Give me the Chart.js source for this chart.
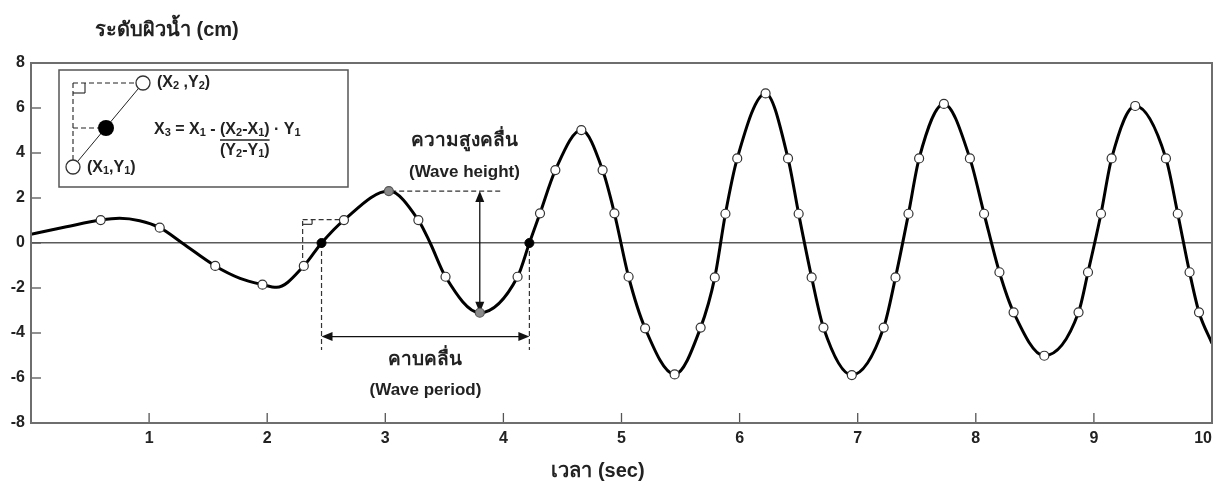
<!DOCTYPE html>
<html>
<head>
<meta charset="utf-8">
<script src="https://cdn.jsdelivr.net/npm/chart.js@4.4.1/dist/chart.umd.min.js"></script>
<style>
  body { margin: 0; background: #fff; }
  #wrap { width: 1218px; height: 496px; }
</style>
</head>
<body>
<div id="wrap"><canvas id="wave"></canvas></div>
<script>
const xTicks = [0, 1, 2, 3, 4, 5, 6, 7, 8, 9, 10];
const yTicks = [-8, -6, -4, -2, 0, 2, 4, 6, 8];

// white sample points on the record
const markerTime = [0.59, 1.09, 1.56, 1.96, 2.31, 2.65, 3.28, 3.51, 4.12, 4.31, 4.44, 4.66, 4.84, 4.94, 5.06, 5.20, 5.45,
  5.67, 5.79, 5.88, 5.98, 6.22, 6.41, 6.50, 6.61, 6.71, 6.95, 7.22, 7.32, 7.43, 7.52, 7.73, 7.95, 8.07, 8.20, 8.32,
  8.58, 8.87, 8.95, 9.06, 9.15, 9.35, 9.61, 9.71, 9.81, 9.89];
const markerLevel = [1.02, 0.68, -1.02, -1.85, -1.02, 1.02, 1.02, -1.50, -1.50, 1.32, 3.24, 5.02, 3.24, 1.32, -1.50, -3.79, -5.84,
  -3.76, -1.53, 1.30, 3.76, 6.65, 3.76, 1.30, -1.53, -3.76, -5.87, -3.76, -1.53, 1.30, 3.76, 6.18, 3.76, 1.30, -1.30, -3.08,
  -5.01, -3.08, -1.30, 1.30, 3.76, 6.09, 3.76, 1.30, -1.30, -3.08];

// zero up-crossings (black) and crest / trough (grey)
const crossTime = [2.46, 4.22];
const crossLevel = [0, 0];
const crestTime = [3.03, 3.80];
const crestLevel = [2.31, -3.10];

// other points
const curveTime = [0, 0.30, 0.75, 0.92, 1.28, 1.77, 2.08, 3.38, 10];
const curveLevel = [0.39, 0.72, 1.10, 0.99, 0, -1.57, -1.97, 0, -4.46];

const FONT = "'Liberation Sans', Arial, sans-serif";

const pts = (xs, ys) => xs.map((v, i) => ({ x: v, y: ys[i] }));
const curve = [
  ...pts(markerTime, markerLevel),
  ...pts(crossTime, crossLevel),
  ...pts(crestTime, crestLevel),
  ...pts(curveTime, curveLevel),
].sort((a, b) => a.x - b.x);

// text with "_n" subscripts
function rich(ctx, str, x, y, size, align) {
  const parts = [];
  for (let i = 0; i < str.length; i++) {
    if (str[i] === '_') { parts.push([str[i + 1], true]); i++; }
    else parts.push([str[i], false]);
  }
  const big = 'bold ' + size + 'px ' + FONT;
  const small = 'bold ' + Math.round(size * 0.66) + 'px ' + FONT;
  let w = 0;
  parts.forEach(p => { ctx.font = p[1] ? small : big; w += ctx.measureText(p[0]).width; });
  let cx = align === 'center' ? x - w / 2 : x;
  ctx.textAlign = 'left';
  ctx.textBaseline = 'middle';
  parts.forEach(p => {
    ctx.font = p[1] ? small : big;
    ctx.fillText(p[0], cx, p[1] ? y + size * 0.2 : y);
    cx += ctx.measureText(p[0]).width;
  });
  return w;
}

function arrowHead(ctx, x, y, dir) {
  ctx.beginPath();
  if (dir === 'up') { ctx.moveTo(x, y); ctx.lineTo(x - 4.5, y + 11); ctx.lineTo(x + 4.5, y + 11); }
  if (dir === 'down') { ctx.moveTo(x, y); ctx.lineTo(x - 4.5, y - 11); ctx.lineTo(x + 4.5, y - 11); }
  if (dir === 'left') { ctx.moveTo(x, y); ctx.lineTo(x + 11, y - 4.5); ctx.lineTo(x + 11, y + 4.5); }
  if (dir === 'right') { ctx.moveTo(x, y); ctx.lineTo(x - 11, y - 4.5); ctx.lineTo(x - 11, y + 4.5); }
  ctx.closePath();
  ctx.fill();
}

function seg(ctx, x1, y1, x2, y2) {
  ctx.beginPath(); ctx.moveTo(x1, y1); ctx.lineTo(x2, y2); ctx.stroke();
}

const annotate = {
  id: 'annotate',
  beforeDatasetsDraw(chart) {
    const { ctx, chartArea: a, scales: { x, y } } = chart;
    const px = v => x.getPixelForValue(v), py = v => y.getPixelForValue(v);
    ctx.save();
    // inward ticks
    ctx.strokeStyle = '#555'; ctx.lineWidth = 1.3;
    yTicks.forEach(t => { if (t > -8 && t < 8) seg(ctx, a.left, py(t), a.left + 10, py(t)); });
    xTicks.forEach(t => { if (t > 0 && t < 10) seg(ctx, px(t), a.bottom, px(t), a.bottom - 10); });

    // construction lines
    ctx.strokeStyle = '#333'; ctx.lineWidth = 1.2; ctx.setLineDash([5, 3]);
    seg(ctx, px(2.30), py(-1.02), px(2.30), py(1.04));
    seg(ctx, px(2.30), py(1.04), px(2.64), py(1.04));
    seg(ctx, px(2.46), py(0), px(2.46), py(-4.75));
    seg(ctx, px(4.22), py(0), px(4.22), py(-4.75));
    seg(ctx, px(3.05), py(2.31), px(3.99), py(2.31));
    ctx.setLineDash([]);
    seg(ctx, px(2.30), py(0.83), px(2.38), py(0.83));
    seg(ctx, px(2.38), py(0.83), px(2.38), py(1.04));

    // wave height arrow
    ctx.strokeStyle = '#111'; ctx.fillStyle = '#111'; ctx.lineWidth = 1.3;
    seg(ctx, px(3.80), py(2.31) + 4, px(3.80), py(-3.10) - 4);
    arrowHead(ctx, px(3.80), py(2.31), 'up');
    arrowHead(ctx, px(3.80), py(-3.10), 'down');
    // wave period arrow
    seg(ctx, px(2.46) + 4, py(-4.16), px(4.22) - 4, py(-4.16));
    arrowHead(ctx, px(2.46), py(-4.16), 'left');
    arrowHead(ctx, px(4.22), py(-4.16), 'right');

    // labels
    ctx.fillStyle = '#222';
    ctx.textAlign = 'center'; ctx.textBaseline = 'middle';
    ctx.font = 'bold 19px ' + FONT;
    ctx.fillText('ความสูงคลื่น', px(3.67), py(4.55));
    ctx.fillText('คาบคลื่น', px(3.34), py(-5.2));
    ctx.font = 'bold 17px ' + FONT;
    ctx.fillText('(Wave height)', px(3.67), py(3.16));
    ctx.fillText('(Wave period)', px(3.34), py(-6.53));
    ctx.restore();
  },
  afterDraw(chart) {
    const { ctx, chartArea: a } = chart;
    ctx.save();
    // frame
    ctx.strokeStyle = '#6e6e6e'; ctx.lineWidth = 2;
    ctx.strokeRect(a.left, a.top, a.right - a.left, a.bottom - a.top);

    // axis titles
    ctx.fillStyle = '#222';
    ctx.font = 'bold 20px ' + FONT;
    ctx.textAlign = 'left'; ctx.textBaseline = 'middle';
    ctx.fillText('ระดับผิวน้ำ (cm)', 95, 30);
    ctx.textAlign = 'center';
    ctx.fillText('เวลา (sec)', 598, 471);

    // inset: linear interpolation sketch
    ctx.strokeStyle = '#555'; ctx.lineWidth = 1.5;
    ctx.strokeRect(59, 70, 289, 117);
    ctx.strokeStyle = '#222'; ctx.lineWidth = 1.1; ctx.setLineDash([5, 3]);
    seg(ctx, 73, 83, 73, 160);
    seg(ctx, 73, 83, 136, 83);
    seg(ctx, 73, 128, 98, 128);
    ctx.setLineDash([]);
    seg(ctx, 73, 93, 85, 93);
    seg(ctx, 85, 83, 85, 93);
    ctx.lineWidth = 1;
    seg(ctx, 73, 167, 143, 83);
    ctx.lineWidth = 1.3; ctx.strokeStyle = '#333'; ctx.fillStyle = '#fff';
    [[143, 83], [73, 167]].forEach(c => {
      ctx.beginPath(); ctx.arc(c[0], c[1], 7, 0, Math.PI * 2); ctx.fill(); ctx.stroke();
    });
    ctx.fillStyle = '#000';
    ctx.beginPath(); ctx.arc(106, 128, 8, 0, Math.PI * 2); ctx.fill();

    ctx.fillStyle = '#222';
    rich(ctx, '(X_2 ,Y_2)', 157, 83, 16);
    rich(ctx, '(X_1,Y_1)', 87, 168, 16);
    let cx = 154;
    cx += rich(ctx, 'X_3 = X_1 - ', cx, 130, 16);
    const nw = rich(ctx, '(X_2-X_1)', cx, 130, 16);
    rich(ctx, ' · Y_1', cx + nw, 130, 16);
    ctx.lineWidth = 1.3; ctx.strokeStyle = '#222';
    seg(ctx, cx, 140, cx + nw, 140);
    rich(ctx, '(Y_2-Y_1)', cx + nw / 2, 151, 16, 'center');
    ctx.restore();
  }
};

new Chart(document.getElementById('wave'), {
  type: 'line',
  data: {
    datasets: [
      {
        data: curve,
        borderColor: '#000',
        borderWidth: 3,
        pointRadius: 0,
        cubicInterpolationMode: 'monotone',
        fill: false,
        order: 3
      },
      {
        type: 'scatter',
        data: pts(markerTime, markerLevel),
        pointRadius: 4.5,
        pointBackgroundColor: '#fff',
        pointBorderColor: '#333',
        pointBorderWidth: 1.2,
        order: 2
      },
      {
        type: 'scatter',
        data: pts(crestTime, crestLevel),
        pointRadius: 4.5,
        pointBackgroundColor: '#8a8a8a',
        pointBorderColor: '#555',
        pointBorderWidth: 1.2,
        order: 1
      },
      {
        type: 'scatter',
        data: pts(crossTime, crossLevel),
        pointRadius: 4.5,
        pointBackgroundColor: '#000',
        pointBorderColor: '#000',
        order: 1
      }
    ]
  },
  options: {
    responsive: true,
    maintainAspectRatio: false,
    animation: false,
    events: [],
    layout: { padding: { left: 0, right: 6, top: 63, bottom: 0 } },
    plugins: { legend: { display: false }, tooltip: { enabled: false } },
    scales: {
      x: {
        type: 'linear',
        min: 0, max: 10,
        afterBuildTicks: s => { s.ticks = xTicks.map(v => ({ value: v })); },
        afterFit: s => { s.height = 73; s.paddingLeft = 0; s.paddingRight = 0; },
        grid: { display: false, drawTicks: false },
        border: { display: false },
        ticks: {
          padding: 6,
          align: 'inner',
          autoSkip: false,
          maxRotation: 0,
          color: '#222',
          font: { family: FONT, size: 16, weight: 'bold' },
          callback: v => (v === 0 ? '' : v)
        }
      },
      y: {
        type: 'linear',
        min: -8, max: 8,
        afterBuildTicks: s => { s.ticks = yTicks.map(v => ({ value: v })); },
        afterFit: s => { s.width = 31; s.paddingTop = 0; s.paddingBottom = 0; },
        grid: {
          drawTicks: false,
          lineWidth: 1.5,
          color: c => (c.tick && c.tick.value === 0 ? '#5a5a5a' : 'rgba(0,0,0,0)')
        },
        border: { display: false },
        ticks: {
          padding: 6,
          color: '#222',
          font: { family: FONT, size: 16, weight: 'bold' }
        }
      }
    }
  },
  plugins: [annotate]
});
</script>
</body>
</html>
